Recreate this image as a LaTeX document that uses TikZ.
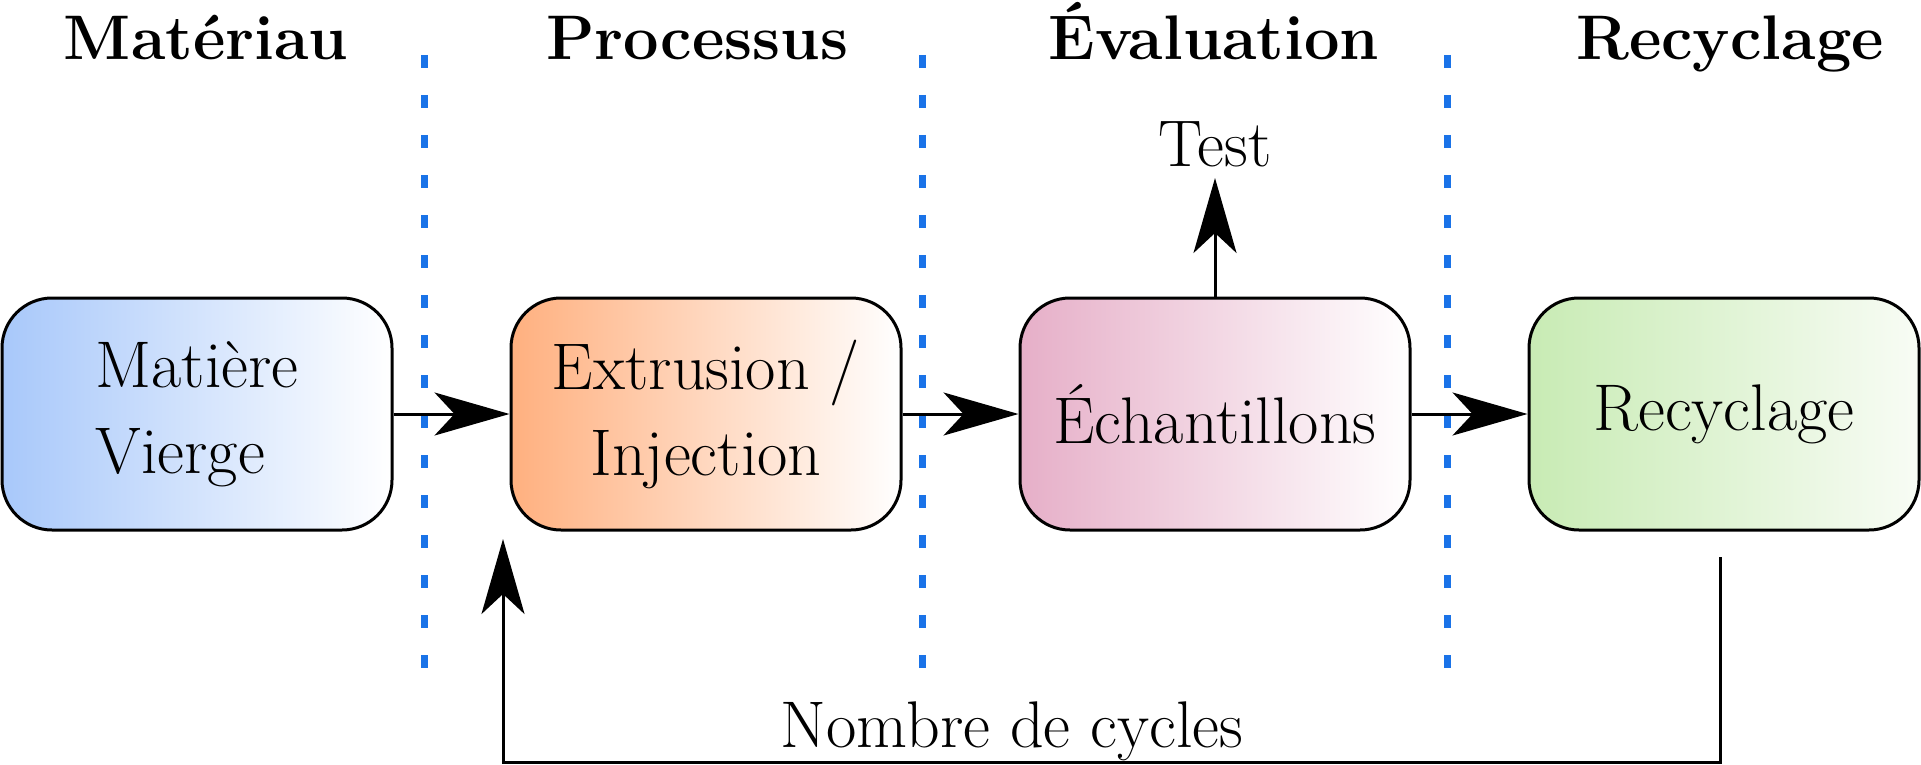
\documentclass[tikz,border=0pt]{standalone}
\usetikzlibrary{positioning,arrows.meta}
\definecolor{sepblue}{RGB}{26,115,232}
\definecolor{matblue}{RGB}{168,200,250}
\definecolor{procorange}{RGB}{255,176,127}
\definecolor{evalpink}{RGB}{230,175,200}
\definecolor{recgreen}{RGB}{200,235,180}
\definecolor{recwhite}{RGB}{248,252,245}

\begin{document}
\begin{tikzpicture}[x=0.5pt, y=-0.5pt, node distance={58pt}, line width=1.5pt,
    box/.style = {draw, rounded corners=25pt, minimum width=195pt, minimum height=116pt, align=center, font=\fontsize{33}{43}\selectfont},
    head/.style = {anchor=base, font=\bfseries\fontsize{31.5}{38}\selectfont},
    label/.style = {font=\fontsize{33}{40}\selectfont},
    flow/.style = {-{Stealth[length=37.5pt, width=21.5pt, inset=10pt]}},
    sep/.style = {draw=sepblue, line width=3.5pt, dash pattern=on 6.5pt off 13.5pt}]
        \useasboundingbox (0,0) rectangle (1921,765);

        % phases
        \foreach \x in {424, 922, 1447}
            \draw[sep] (\x,55) -- (\x,668);
        \node[head] (hmat) at (206,60) {Matériau};
        \node[head] (hproc) at (697,60) {Processus};
        \node[head] (heval) at (1214,60) {Évaluation};
        \node[head] (hrec) at (1730,60) {Recyclage};

        % chain
        \node[box, align=left, left color=matblue, right color=white] (mat) at (197,414) {Matière\\Vierge};
        \node[box, left color=procorange, right color=white] (proc) [right = of mat] {Extrusion /\\Injection};
        \node[box, left color=evalpink, right color=white] (eval) [right = of proc] {Échantillons};
        \node[box, left color=recgreen, right color=recwhite] (rec) [right = of eval] {Recyclage};

        \draw[flow] (mat) -- (proc);
        \draw[flow] (proc) -- (eval);
        \draw[flow] (eval) -- (rec);

        \node[label, anchor=south, inner sep=4.5pt] (test) at (1215,178) {Test};
        \draw[flow] (eval) -- (test);

        % loop back
        \coordinate (cycout) at (1720,557);
        \coordinate (cycin) at (503,539);
        \draw[flow] (cycout) -- ++(0,205) -| (cycin);
        \node[label, anchor=base] (cycles) at (1012,747) {Nombre de cycles};

    \end{tikzpicture}
\end{document}
